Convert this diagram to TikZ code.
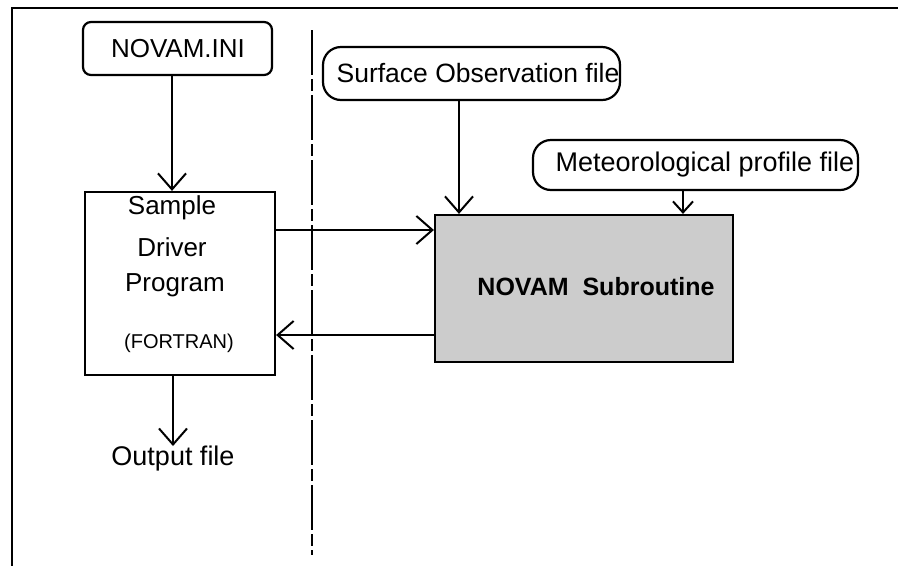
\documentclass[tikz,border=0pt]{standalone}
\usepackage{fontspec}
\setmainfont{Liberation Sans}
\usetikzlibrary{arrows.meta}
\begin{document}
\begin{tikzpicture}[x=1pt,y=-1pt,
  frame/.style={line width=2.2pt},
  box/.style={draw,line width=2.2pt,inner sep=0pt},
  filebox/.style={box,rounded corners=18pt},
  lbl/.style={font=\fontsize{26}{28}\selectfont,inner sep=0pt},
  arr/.style={line width=2pt,-{Straight Barb[length=16pt,width=28pt,line width=2pt]}},
  sarr/.style={line width=2pt,-{Straight Barb[length=11pt,width=20pt,line width=2pt]}},
  divider/.style={line width=1.5pt,dash pattern=on 45pt off 4pt on 12pt off 4pt}]
\useasboundingbox (0,0) rectangle (898,566);
% outer frame
\draw[frame] (898,8) -- (12,8) -- (12,566);
% divider
\draw[divider] (312,30) -- (312,555);
% left column
\node[box,rounded corners=8pt,minimum width=189pt,minimum height=53pt] (ini) at (177.5,48.5) {};
\node[lbl] (initxt) at (178,48.5) {NOVAM.INI};
\node[box,minimum width=190pt,minimum height=183pt] (drv) at (180,283.5) {};
\node[lbl] (t1) at (172,208) {Sample};
\node[lbl] (t2) at (172,247) {Driver};
\node[lbl] (t3) at (175,285) {Program};
\node[lbl,font=\fontsize{20}{22}\selectfont] (t4) at (179,343) {(FORTRAN)};
\node[lbl,anchor=north,font=\fontsize{27}{28}\selectfont] (out) at (173,446) {Output file};
% right column
\node[filebox,minimum width=297pt,minimum height=53pt] (sfc) at (471.5,73.5) {};
\node[lbl,font=\fontsize{26.5}{28}\selectfont] (sfctxt) at (478,73.5) {Surface Observation file};
\node[filebox,minimum width=325pt,minimum height=50pt] (met) at (695.5,165) {};
\node[lbl,font=\fontsize{27}{28}\selectfont] (mettxt) at (705,165) {Meteorological profile file};
\node[box,fill=black!20,minimum width=298pt,minimum height=147pt] (nov) at (584,288.5) {};
\node[lbl,font=\bfseries\fontsize{25}{28}\selectfont] (novtxt) at (596,287) {NOVAM\ \ Subroutine};
% connectors
\draw[arr] (ini.south -| 172,0) -- (drv.north -| 172,0);
\draw[arr] (drv.south -| 173,0) -- (out.north -| 173,0);
\draw[arr] (drv.east |- 0,230) -- (nov.west |- 0,230);
\draw[arr] (nov.west |- 0,335) -- (drv.east |- 0,335);
\draw[arr] (sfc.south -| 459,0) -- (nov.north -| 459,0);
\draw[sarr] (met.south -| 683,0) -- (nov.north -| 683,0);
\end{tikzpicture}
\end{document}
